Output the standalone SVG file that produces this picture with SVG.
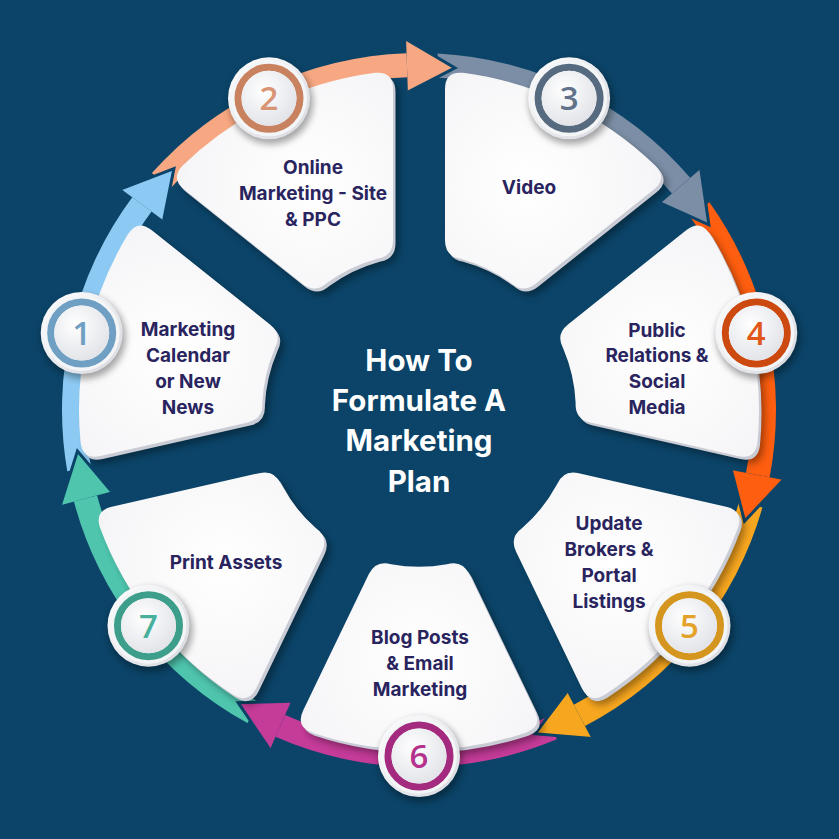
<svg xmlns="http://www.w3.org/2000/svg" width="839" height="839" viewBox="0 0 839 839">
<defs>
<style>
.lbl{font-family:Inter,"Noto Sans","Liberation Sans",sans-serif;font-weight:700;font-size:19px;fill:#29245e;text-anchor:middle}
.ttl{font-family:Inter,"Noto Sans","Liberation Sans",sans-serif;font-weight:700;font-size:29.5px;fill:#ffffff;text-anchor:middle}
.num{font-family:"Open Sans","Noto Sans","Liberation Sans",sans-serif;font-weight:600;font-size:33px;text-anchor:middle}
.head{stroke:#0b4468;stroke-width:3;stroke-linejoin:miter}
.shadow{fill:#000000;opacity:.35}
.edge{fill:#c9ccd4}
.face{fill:url(#cg)}
.ring{fill:none;stroke-width:7}
</style>
<radialGradient id="cg" gradientUnits="userSpaceOnUse" cx="0" cy="250" r="190">
<stop offset="0" stop-color="#ffffff"/><stop offset="0.65" stop-color="#f6f6f8"/><stop offset="1" stop-color="#e6e7eb"/>
</radialGradient>
<linearGradient id="bg1" x1="0" y1="0" x2="1" y2="1"><stop offset="0" stop-color="#ffffff"/><stop offset="1" stop-color="#d6d8de"/></linearGradient>
<radialGradient id="bg2" cx="0.4" cy="0.35" r="0.7"><stop offset="0" stop-color="#ffffff"/><stop offset="1" stop-color="#e0e2e7"/></radialGradient>
<filter id="blur" x="-30%" y="-30%" width="160%" height="160%"><feGaussianBlur stdDeviation="3.5"/></filter>
<path id="card" d="M 50.25 164.27 L 115.85 300.50 Q 123.66 316.72 106.76 322.81 A 340 340 0 0 1 -106.76 322.81 Q -123.66 316.72 -115.85 300.50 L -50.25 164.27 Q -43.31 149.85 -27.94 154.29 A 156 156 0 0 0 27.94 154.29 Q 43.31 149.85 50.25 164.27 Z"/>
<g id="badge">
<circle cx="2" cy="4" r="42" class="shadow" filter="url(#blur)"/>
<circle r="41" fill="url(#bg1)"/>
<circle r="38" fill="#f4f5f7"/>
</g>
<circle id="inner" r="27.5" fill="url(#bg2)"/>
</defs>

<rect width="839" height="839" fill="#0b4468"/>

<g id="connectors">
<path fill="#8dcaf3" d="M 67.27 471.13 A 357 357 0 0 1 132.28 197.30 L 151.56 211.60 A 333 333 0 0 0 90.92 467.02 Z"/>
<path fill="#f7a882" d="M 151.91 173.12 A 357 357 0 0 1 406.54 53.22 L 407.38 77.20 A 333 333 0 0 0 169.87 189.04 Z"/>
<path fill="#7b8ea5" d="M 437.69 53.49 A 357 357 0 0 1 690.18 177.81 L 671.95 193.42 A 333 333 0 0 0 436.43 77.46 Z"/>
<path fill="#fd5e0f" d="M 709.38 202.33 A 357 357 0 0 1 769.61 477.26 L 746.04 472.74 A 333 333 0 0 0 689.86 216.29 Z"/>
<path fill="#f7a61f" d="M 762.41 507.56 A 357 357 0 0 1 585.00 726.06 L 573.84 704.81 A 333 333 0 0 0 739.32 501.00 Z"/>
<path fill="#c43b98" d="M 556.83 739.33 A 357 357 0 0 1 275.44 736.87 L 285.09 714.90 A 333 333 0 0 0 547.56 717.19 Z"/>
<path fill="#4fc5ae" d="M 247.50 723.11 A 357 357 0 0 1 73.94 501.56 L 97.14 495.40 A 333 333 0 0 0 259.03 702.06 Z"/>
<path class="head" fill="#8dcaf3" d="M 121.04 188.95 L 173.93 168.59 L 163.60 220.53"/>
<path class="head" fill="#f7a882" d="M 406.05 39.23 L 454.96 67.89 L 407.90 92.19"/>
<path class="head" fill="#7b8ea5" d="M 700.82 168.71 L 708.90 224.81 L 660.56 203.18"/>
<path class="head" fill="#fd5e0f" d="M 783.36 479.90 L 744.53 521.20 L 731.30 469.91"/>
<path class="head" fill="#f7a61f" d="M 591.51 738.45 L 535.02 733.85 L 566.87 691.53"/>
<path class="head" fill="#c43b98" d="M 269.81 749.69 L 238.18 702.65 L 291.13 701.16"/>
<path class="head" fill="#4fc5ae" d="M 60.41 505.15 L 77.46 451.09 L 111.63 491.55"/>
</g>

<g id="node-1">
<use href="#card" class="shadow" filter="url(#blur)" transform="translate(425,417) rotate(102.857)"/>
<use href="#card" class="edge" transform="translate(421.5,413) rotate(102.857)"/>
<use href="#card" class="face" transform="translate(419,410) rotate(102.857)"/>
<text class="lbl" x="188" y="335.5">Marketing</text>
<text class="lbl" x="188" y="361.5">Calendar</text>
<text class="lbl" x="188" y="387.5">or New</text>
<text class="lbl" x="188" y="413.5">News</text>
<use href="#badge" x="81.7" y="333"/>
<circle class="ring" cx="81.7" cy="333" r="31" stroke="#6f9fc2"/>
<use href="#inner" x="81.7" y="333"/>
<text class="num" x="81.7" y="345" fill="#6f9fc2">1</text>
</g>

<g id="node-2">
<use href="#card" class="shadow" filter="url(#blur)" transform="translate(425,417) rotate(154.286)"/>
<use href="#card" class="edge" transform="translate(421.5,413) rotate(154.286)"/>
<use href="#card" class="face" transform="translate(419,410) rotate(154.286)"/>
<text class="lbl" x="313" y="173.5">Online</text>
<text class="lbl" x="313" y="199.5">Marketing - Site</text>
<text class="lbl" x="313" y="225.5">&amp; PPC</text>
<use href="#badge" x="269" y="98.3"/>
<circle class="ring" cx="269" cy="98.3" r="31" stroke="#c8825f"/>
<use href="#inner" x="269" y="98.3"/>
<text class="num" x="269" y="110.3" fill="#d99474">2</text>
</g>

<g id="node-3">
<use href="#card" class="shadow" filter="url(#blur)" transform="translate(425,417) rotate(205.714)"/>
<use href="#card" class="edge" transform="translate(421.5,413) rotate(205.714)"/>
<use href="#card" class="face" transform="translate(419,410) rotate(205.714)"/>
<text class="lbl" x="529" y="193.5">Video</text>
<use href="#badge" x="569.1" y="98.3"/>
<circle class="ring" cx="569.1" cy="98.3" r="31" stroke="#566a80"/>
<use href="#inner" x="569.1" y="98.3"/>
<text class="num" x="569.1" y="110.3" fill="#5f7289">3</text>
</g>

<g id="node-4">
<use href="#card" class="shadow" filter="url(#blur)" transform="translate(425,417) rotate(257.143)"/>
<use href="#card" class="edge" transform="translate(421.5,413) rotate(257.143)"/>
<use href="#card" class="face" transform="translate(419,410) rotate(257.143)"/>
<text class="lbl" x="657" y="336.5">Public</text>
<text class="lbl" x="657" y="361.5">Relations &amp;</text>
<text class="lbl" x="657" y="387.5">Social</text>
<text class="lbl" x="657" y="413.5">Media</text>
<use href="#badge" x="756.3" y="333"/>
<circle class="ring" cx="756.3" cy="333" r="31" stroke="#cc4a10"/>
<use href="#inner" x="756.3" y="333"/>
<text class="num" x="756.3" y="345" fill="#e2561a">4</text>
</g>

<g id="node-5">
<use href="#card" class="shadow" filter="url(#blur)" transform="translate(425,417) rotate(308.571)"/>
<use href="#card" class="edge" transform="translate(421.5,413) rotate(308.571)"/>
<use href="#card" class="face" transform="translate(419,410) rotate(308.571)"/>
<text class="lbl" x="609" y="529.5">Update</text>
<text class="lbl" x="609" y="555.5">Brokers &amp;</text>
<text class="lbl" x="609" y="581.5">Portal</text>
<text class="lbl" x="609" y="607.5">Listings</text>
<use href="#badge" x="689.5" y="625.7"/>
<circle class="ring" cx="689.5" cy="625.7" r="31" stroke="#d4961e"/>
<use href="#inner" x="689.5" y="625.7"/>
<text class="num" x="689.5" y="637.7" fill="#e4a22a">5</text>
</g>

<g id="node-6">
<use href="#card" class="shadow" filter="url(#blur)" transform="translate(425,417)"/>
<use href="#card" class="edge" transform="translate(421.5,413)"/>
<use href="#card" class="face" transform="translate(419,410)"/>
<text class="lbl" x="420" y="643.5">Blog Posts</text>
<text class="lbl" x="420" y="669.5">&amp; Email</text>
<text class="lbl" x="420" y="695.5">Marketing</text>
<use href="#badge" x="419" y="756"/>
<circle class="ring" cx="419" cy="756" r="31" stroke="#a32a7f"/>
<use href="#inner" x="419" y="756"/>
<text class="num" x="419" y="768" fill="#b5338c">6</text>
</g>

<g id="node-7">
<use href="#card" class="shadow" filter="url(#blur)" transform="translate(425,417) rotate(51.429)"/>
<use href="#card" class="edge" transform="translate(421.5,413) rotate(51.429)"/>
<use href="#card" class="face" transform="translate(419,410) rotate(51.429)"/>
<text class="lbl" x="226" y="568.5">Print Assets</text>
<use href="#badge" x="148.5" y="625.7"/>
<circle class="ring" cx="148.5" cy="625.7" r="31" stroke="#3d9e8b"/>
<use href="#inner" x="148.5" y="625.7"/>
<text class="num" x="148.5" y="637.7" fill="#48b09a">7</text>
</g>

<g id="title">
<text class="ttl" x="419" y="371">How To</text>
<text class="ttl" x="419" y="411">Formulate A</text>
<text class="ttl" x="419" y="451">Marketing</text>
<text class="ttl" x="419" y="492">Plan</text>
</g>
</svg>
